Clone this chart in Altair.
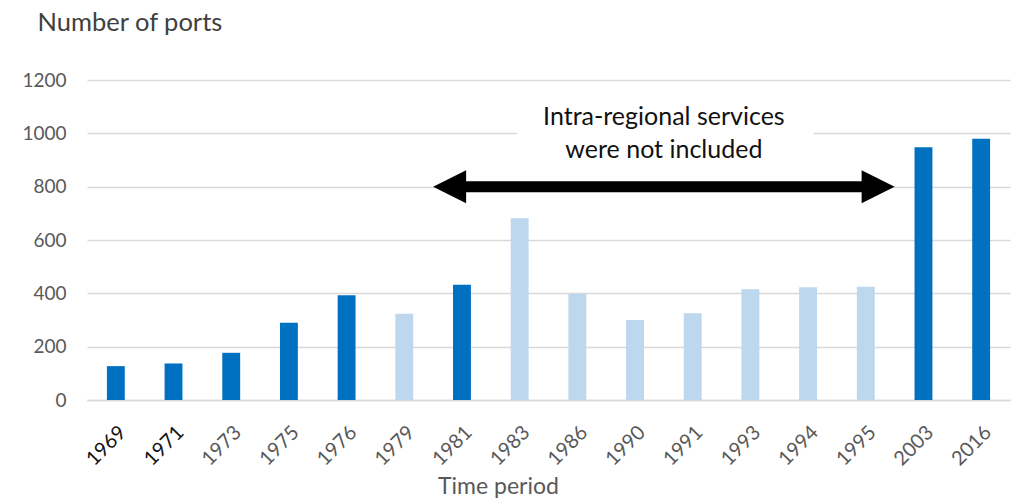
import altair as alt
import pandas as pd

# Number of ports served, by survey year
years = ["1969", "1971", "1973", "1975", "1976", "1979", "1981", "1983",
         "1986", "1990", "1991", "1993", "1994", "1995", "2003", "2016"]
ports = [127, 137, 177, 290, 393, 323, 432, 682,
         398, 300, 325, 415, 423, 425, 948, 980]
# "full" = all services counted, "partial" = intra-regional services left out
coverage = ["full", "full", "full", "full", "full", "partial", "full", "partial",
            "partial", "partial", "partial", "partial", "partial", "partial", "full", "full"]

y_ticks = [0, 200, 400, 600, 800, 1000, 1200]

# Annotation: arrow spanning the years without intra-regional services
note_lines = "Intra-regional services\nwere not included"
arrow_from = 6      # slot boundary between 1979 and 1981
arrow_to = 14       # slot boundary between 1995 and 2003
arrow_level = 800
note_center = 10
note_level = 1062
box_x = [7.45, 12.6]
box_y = [870, 1140]

n_slots = len(years)
FONT = "Lato"
GRID = "#d9d9d9"
TEXT_GREY = "#595959"

df = pd.DataFrame({"year": years, "ports": ports, "coverage": coverage})

y_axis = alt.Axis(
    values=y_ticks,
    format="d",
    title="Number of ports",
    titleAngle=0,
    titleAlign="left",
    titleBaseline="alphabetic",
    titleX=-50,
    titleY=-50,
    titleFont=FONT,
    titleFontSize=25.5,
    titleFontWeight="normal",
    titleColor="#404040",
    labelFont=FONT,
    labelFontSize=19,
    labelColor=TEXT_GREY,
    labelPadding=21,
    ticks=False,
    domain=False,
    gridColor=GRID,
    gridWidth=1.5,
)
y_scale = alt.Scale(domain=[0, 1200], nice=False)

bars = alt.Chart(df).mark_bar().encode(
    x=alt.X(
        "year:N",
        sort=years,
        scale=alt.Scale(paddingInner=0.69, paddingOuter=0.345),
        axis=alt.Axis(
            title="Time period",
            labelAngle=-45,
            labelFont=FONT,
            labelFontSize=20,
            labelPadding=22,
            labelColor=alt.expr("indexof(['1969','1971'], datum.value) >= 0 ? '#111111' : '#595959'"),
            ticks=False,
            domainColor=GRID,
            domainWidth=1.5,
            titleFont=FONT,
            titleFontSize=23,
            titleFontWeight="normal",
            titleColor=TEXT_GREY,
            titleAlign="center",
            titleBaseline="alphabetic",
            titleX=411,
            titleY=93,
        ),
    ),
    y=alt.Y("ports:Q", scale=y_scale, axis=y_axis),
    color=alt.Color(
        "coverage:N",
        scale=alt.Scale(domain=["full", "partial"], range=["#0070C0", "#BDD7EE"]),
        legend=None,
    ),
)

slot_scale = alt.Scale(domain=[0, n_slots], nice=False, zero=False)
y_note = alt.Y("ports:Q", scale=y_scale, axis=y_axis)

box = alt.Chart(pd.DataFrame({"x": [box_x[0]], "x2": [box_x[1]],
                              "ports": [box_y[0]], "p2": [box_y[1]]})).mark_rect(
    color="white"
).encode(
    x=alt.X("x:Q", scale=slot_scale, axis=None),
    x2="x2:Q",
    y=y_note,
    y2="p2:Q",
)

note = alt.Chart(pd.DataFrame({"x": [note_center], "ports": [note_level], "t": [note_lines]})).mark_text(
    font=FONT, fontSize=25, color="#111111", lineBreak="\n", lineHeight=33,
    align="center", baseline="middle",
).encode(
    x=alt.X("x:Q", scale=slot_scale, axis=None),
    y=y_note,
    text="t:N",
)

shaft = alt.Chart(pd.DataFrame({"x": [arrow_from + 0.5], "x2": [arrow_to - 0.5],
                                "ports": [arrow_level]})).mark_rule(
    color="black", strokeWidth=11
).encode(
    x=alt.X("x:Q", scale=slot_scale, axis=None),
    x2="x2:Q",
    y=y_note,
)

head_left = alt.Chart(pd.DataFrame({"x": [arrow_from], "ports": [arrow_level]})).mark_point(
    shape="M0,0L2,-1L2,1Z", size=1089, filled=True, color="black", opacity=1, strokeWidth=0
).encode(
    x=alt.X("x:Q", scale=slot_scale, axis=None),
    y=y_note,
)

head_right = alt.Chart(pd.DataFrame({"x": [arrow_to], "ports": [arrow_level]})).mark_point(
    shape="M0,0L-2,-1L-2,1Z", size=1089, filled=True, color="black", opacity=1, strokeWidth=0
).encode(
    x=alt.X("x:Q", scale=slot_scale, axis=None),
    y=y_note,
)

annotation = alt.layer(box, note, shaft, head_left, head_right)

chart = alt.layer(bars, annotation).resolve_scale(x="independent").properties(
    width=923,
    height=320,
    padding={"left": 87, "top": 80, "right": 4, "bottom": 102},
    autosize=alt.AutoSizeParams(type="none"),
    background="white",
).configure_view(stroke=None)

chart.save("out.html", embed_options={"renderer": "svg", "actions": False})
